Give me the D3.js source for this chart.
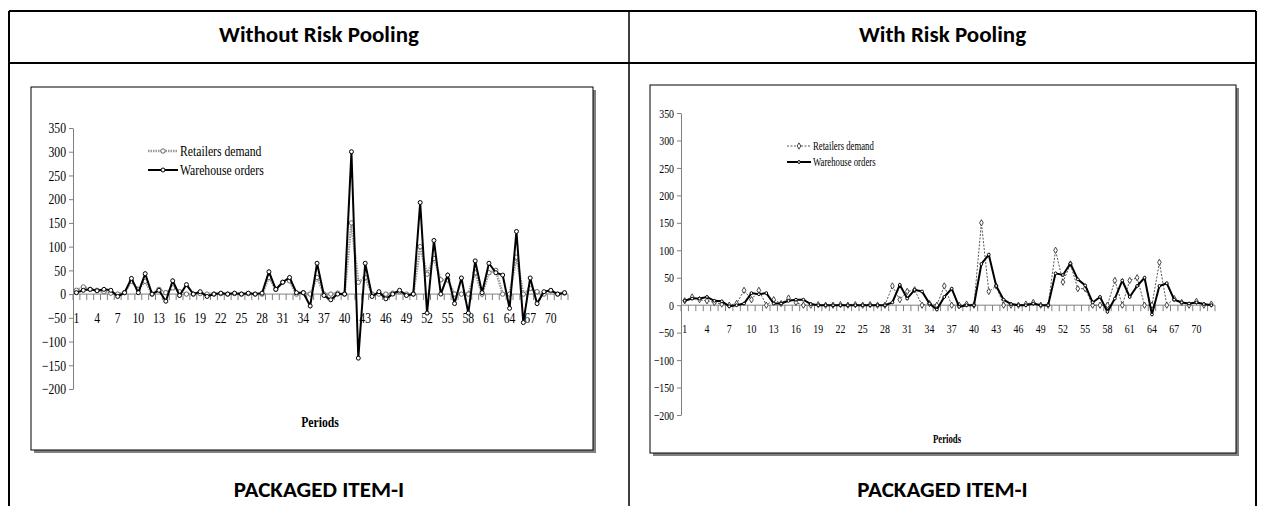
<!DOCTYPE html>
<html>
<head>
<meta charset="utf-8">
<script src="https://cdn.jsdelivr.net/npm/d3@7/dist/d3.min.js"></script>
<style>
  body { margin: 0; background: #fff; }
</style>
</head>
<body>
<svg id="mainsvg" width="1261" height="506"></svg>
<script>
// periods 1..72
const periods = d3.range(1, 73);
const periodLabels = periods.filter(p => (p - 1) % 3 === 0);
const yTicks = [-200, -150, -100, -50, 0, 50, 100, 150, 200, 250, 300, 350];
const seriesNames = ['Retailers demand', 'Warehouse orders'];
const panelTitles = ['Without Risk Pooling', 'With Risk Pooling'];
const footerText = 'PACKAGED ITEM-I';

const retailersDemand = [
  8, 15, 10, 8, 5, 2, 0, 3, 27, 10, 27, 0, 10, 3, 13, 5, 0, 0, 1, 0,
  0, 1, 0, 1, 0, 1, 0, 0, 35, 10, 25, 28, 0, 3, 0, 35, 0, 0, 2, 0,
  150, 25, 35, 0, 0, 0, 2, 5, 0, 0, 100, 42, 75, 30, 30, 0, 0, 0, 45, 0,
  45, 50, 0, 0, 78, 0, 12, 5, 0, 7, 0, 2
];
const ordersWithout = [
  3, 8, 10, 7, 10, 8, -5, 3, 33, 3, 43, 0, 8, -15, 28, -3, 20, 0, 5, -5,
  0, 2, 0, 2, 0, 2, 0, 2, 47, 10, 25, 35, 3, 3, -25, 65, -3, -12, 0, 0,
  300, -135, 65, -5, 5, -10, 0, 8, -3, 0, 193, -40, 113, 0, 40, -20, 34, -40, 70, 3,
  65, 45, 40, -30, 132, -60, 34, -20, 5, 8, 0, 3
];
const ordersWith = [
  8, 12, 12, 15, 8, 7, -2, 0, 3, 22, 20, 22, 3, 3, 8, 10, 10, 2, 0, 0,
  0, 0, 0, 0, 0, 0, 0, 0, 5, 37, 12, 28, 25, 3, -8, 15, 30, -3, 0, 0,
  75, 92, 35, 10, 2, 0, 0, 3, 0, 0, 58, 55, 76, 47, 36, 5, 15, -12, 12, 45,
  15, 35, 50, -17, 35, 40, 10, 5, 3, 5, 2, 0
];

const svg = d3.select('#mainsvg');
const width = +svg.attr('width');
const height = +svg.attr('height');

// table frame
const table = { left: 9, right: 1256, top: 11, header: 63, mid: 629 };
const tg = svg.append('g').attr('stroke', '#000').attr('stroke-width', 2);
tg.append('line').attr('x1', table.left).attr('x2', table.right).attr('y1', table.top).attr('y2', table.top);
tg.append('line').attr('x1', table.left).attr('x2', table.right).attr('y1', table.header).attr('y2', table.header);
tg.append('line').attr('x1', table.left).attr('x2', table.left).attr('y1', table.top).attr('y2', height);
tg.append('line').attr('x1', table.right).attr('x2', table.right).attr('y1', table.top).attr('y2', height);
tg.append('line').attr('x1', table.mid).attr('x2', table.mid).attr('y1', table.top).attr('y2', height).attr('stroke-width', 1.5);

const cellCenters = [(table.left + table.mid) / 2, (table.mid + table.right) / 2];
panelTitles.forEach((t, i) => {
  svg.append('text').text(t)
    .attr('x', cellCenters[i]).attr('y', 42)
    .attr('text-anchor', 'middle')
    .attr('font-family', 'Carlito, Calibri, "Open Sans", sans-serif')
    .attr('font-weight', 'bold').attr('font-size', '23px');
  svg.append('text').text(footerText)
    .attr('x', cellCenters[i]).attr('y', 497)
    .attr('text-anchor', 'middle')
    .attr('font-family', 'Carlito, Calibri, "Open Sans", sans-serif')
    .attr('font-weight', 'bold').attr('font-size', '23px');
});

const serif = '"Liberation Serif", "Times New Roman", serif';

const charts = [
  {
    box: { x: 31, y: 87, w: 562, h: 363 },
    x0: 73, x1: 568, yTop: 128, yBottom: 389,
    font: 15, squish: 0.78, labelDy: 29,
    legend: { x: 148, y: 151, gap: 19, len: 30, font: 15 },
    periods: { x: 320, y: 427, font: 15 },
    demand: retailersDemand, orders: ordersWithout,
    demandStyle: { stroke: '#999', width: 2.5, dash: '1.5,1', marker: 'circle', r: 2.2, mstroke: '#666' },
    orderStyle: { stroke: '#000', width: 2, marker: 'circle', r: 2, mstroke: '#000' }
  },
  {
    box: { x: 650, y: 85, w: 586, h: 368 },
    x0: 681, x1: 1215, yTop: 113, yBottom: 415,
    font: 13, squish: 0.76, labelDy: 28,
    legend: { x: 787, y: 146, gap: 16, len: 24, font: 11.5 },
    periods: { x: 947, y: 443, font: 11.5 },
    demand: retailersDemand, orders: ordersWith,
    demandStyle: { stroke: '#555', width: 1, dash: '2,1.5', marker: 'diamond', r: 1.7, mstroke: '#333' },
    orderStyle: { stroke: '#000', width: 2, marker: 'circle', r: 1.4, mstroke: '#000' }
  }
];

const addMarkers = function(g, pts, st) {
  if (st.marker === 'circle') {
    g.selectAll(null).data(pts).join('circle')
      .attr('cx', d => d[0]).attr('cy', d => d[1]).attr('r', st.r)
      .attr('fill', '#fff').attr('stroke', st.mstroke).attr('stroke-width', 1);
  } else {
    const sym = d3.symbol(d3.symbolDiamond, st.r * st.r * 4);
    g.selectAll(null).data(pts).join('path')
      .attr('d', sym)
      .attr('transform', d => `translate(${d[0]},${d[1]})`)
      .attr('fill', '#fff').attr('stroke', st.mstroke).attr('stroke-width', 0.9);
  }
};

const render = function(c) {
  const g = svg.append('g');
  // chart area with shadow
  g.append('rect').attr('x', c.box.x + 3).attr('y', c.box.y + 3)
    .attr('width', c.box.w).attr('height', c.box.h).attr('fill', '#808080');
  g.append('rect').attr('x', c.box.x).attr('y', c.box.y)
    .attr('width', c.box.w).attr('height', c.box.h)
    .attr('fill', '#fff').attr('stroke', '#000').attr('stroke-width', 1);

  const xScale = d3.scaleBand().domain(periods).range([c.x0, c.x1]);
  const yScale = d3.scaleLinear().domain([-200, 350]).range([c.yBottom, c.yTop]);
  const cx = p => xScale(p) + xScale.bandwidth() / 2;
  const y0 = yScale(0);

  // value axis
  const yAxis = d3.axisLeft(yScale).tickValues(yTicks).tickSize(4).tickSizeOuter(0).tickPadding(3);
  const ya = g.append('g').attr('transform', `translate(${c.x0},0)`).call(yAxis);
  ya.select('.domain').attr('stroke', '#808080');
  ya.selectAll('.tick line').attr('stroke', '#808080');
  ya.selectAll('.tick text')
    .attr('font-family', serif).attr('font-size', c.font + 'px').attr('fill', '#000')
    .attr('x', -7 / c.squish)
    .attr('transform', `scale(${c.squish},1)`);

  // category axis at zero
  g.append('line').attr('x1', c.x0).attr('x2', c.x1).attr('y1', y0).attr('y2', y0)
    .attr('stroke', '#808080');
  const bounds = periods.map(p => xScale(p)).concat([c.x1]);
  g.selectAll(null).data(bounds).join('line')
    .attr('x1', d => d).attr('x2', d => d).attr('y1', y0).attr('y2', y0 + 6)
    .attr('stroke', '#808080');
  const xAxis = d3.axisBottom(xScale).tickValues(periodLabels).tickSize(0);
  const xa = g.append('g').attr('transform', `translate(0,${y0})`).call(xAxis);
  xa.select('.domain').remove();
  xa.selectAll('.tick text')
    .attr('font-family', serif).attr('font-size', c.font + 'px').attr('fill', '#000')
    .attr('y', c.labelDy).attr('dy', 0)
    .attr('transform', `scale(${c.squish},1)`)
    .attr('x', 0);
  xa.selectAll('.tick').each(function(p) {
    d3.select(this).attr('transform', `translate(${cx(p)},0)`);
  });

  // series
  const line = d3.line().x(d => d[0]).y(d => d[1]);
  const dPts = periods.map((p, i) => [cx(p), yScale(c.demand[i])]);
  const oPts = periods.map((p, i) => [cx(p), yScale(c.orders[i])]);

  g.append('path').attr('d', line(dPts)).attr('fill', 'none')
    .attr('stroke', c.demandStyle.stroke).attr('stroke-width', c.demandStyle.width)
    .attr('stroke-dasharray', c.demandStyle.dash);
  addMarkers(g.append('g'), dPts, c.demandStyle);

  g.append('path').attr('d', line(oPts)).attr('fill', 'none')
    .attr('stroke', c.orderStyle.stroke).attr('stroke-width', c.orderStyle.width)
    .attr('stroke-linejoin', 'miter');
  addMarkers(g.append('g'), oPts, c.orderStyle);

  // legend
  [c.demandStyle, c.orderStyle].forEach((st, i) => {
    const ly = c.legend.y + i * c.legend.gap;
    const lx = c.legend.x;
    g.append('line').attr('x1', lx).attr('x2', lx + c.legend.len).attr('y1', ly).attr('y2', ly)
      .attr('stroke', st.stroke).attr('stroke-width', st.width)
      .attr('stroke-dasharray', st.dash || null);
    addMarkers(g.append('g'), [[lx + c.legend.len / 2, ly]], st);
    g.append('text').text(seriesNames[i])
      .attr('x', (lx + c.legend.len + 2) / c.squish).attr('y', ly)
      .attr('dy', '0.35em')
      .attr('transform', `scale(${c.squish},1)`)
      .attr('font-family', serif).attr('font-size', c.legend.font + 'px');
  });

  g.append('text').text('Periods')
    .attr('x', c.periods.x / c.squish).attr('y', c.periods.y)
    .attr('text-anchor', 'middle')
    .attr('transform', `scale(${c.squish},1)`)
    .attr('font-family', serif).attr('font-weight', 'bold')
    .attr('font-size', c.periods.font + 'px');
};

charts.forEach(render);
</script>
</body>
</html>
